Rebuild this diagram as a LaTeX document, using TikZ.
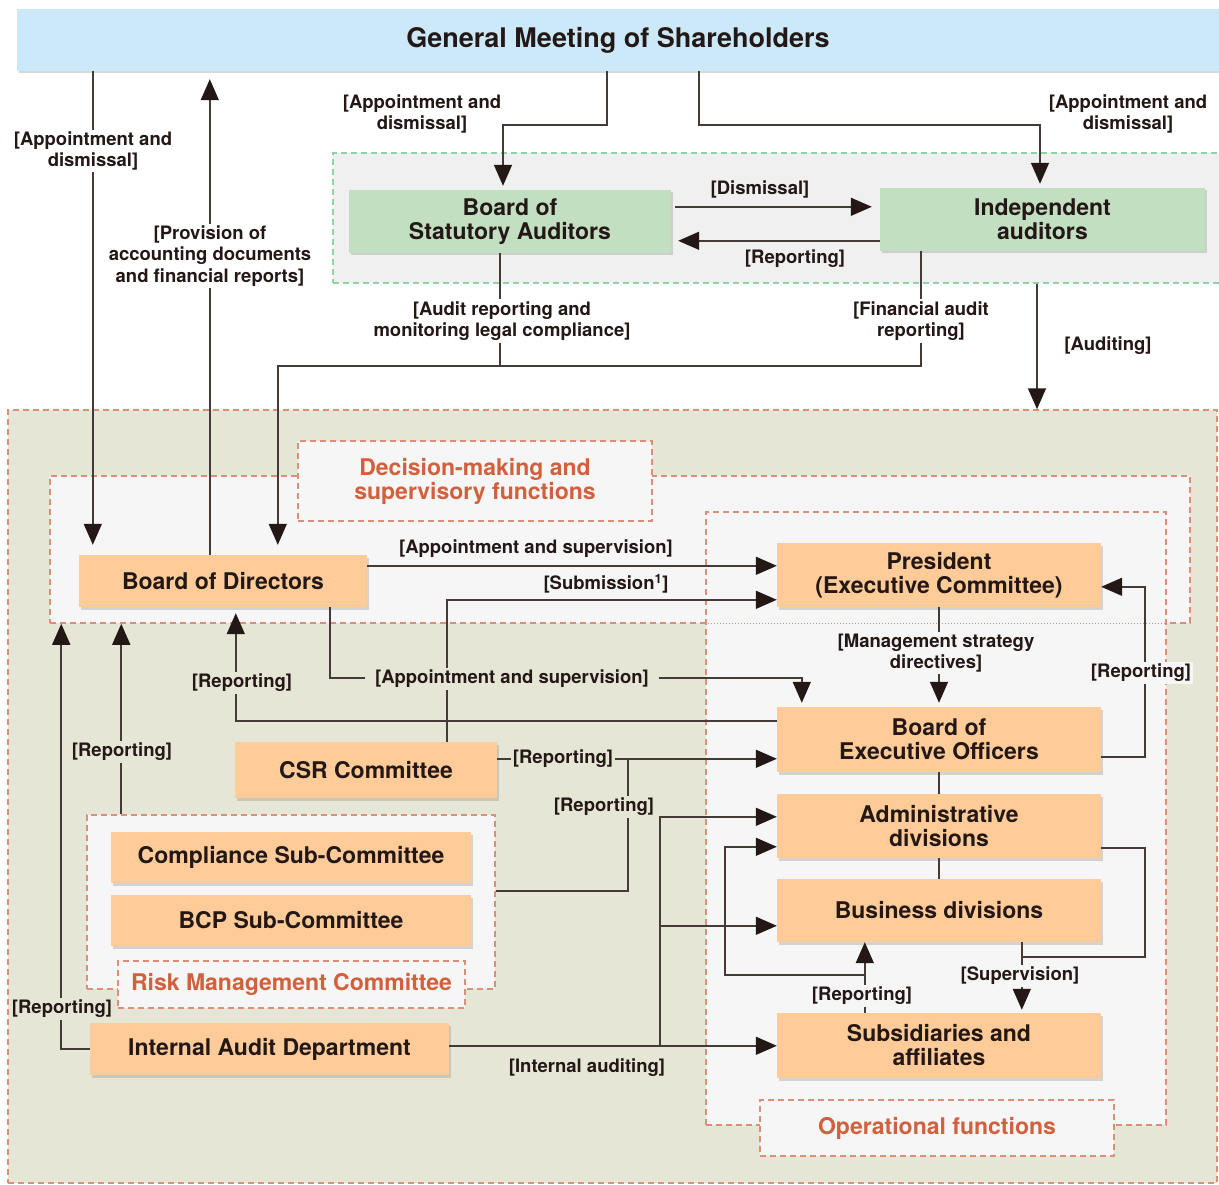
\documentclass[tikz,border=0pt]{standalone}
\usepackage{fontspec}
\setmainfont{TeX Gyre Heros}
\usetikzlibrary{arrows.meta,shadows}

\definecolor{gmblue}{HTML}{CCE9FA}
\definecolor{audgreen}{HTML}{C2DFC2}
\definecolor{boxorange}{HTML}{FFCC99}
\definecolor{mgmtbg}{HTML}{E6E6D6}
\definecolor{zonebg}{HTML}{F6F6F6}
\definecolor{audzonebg}{HTML}{F0F0F0}
\definecolor{zonered}{HTML}{DB8E78}
\definecolor{zonegreen}{HTML}{8FD3A3}
\definecolor{titlered}{HTML}{D2603C}
\definecolor{ink}{HTML}{231815}

\begin{document}
\begin{tikzpicture}[
    x=1pt,y=-1pt,
    >={Triangle[length=21pt,width=18pt,color=ink]},
    conn/.style={line width=1.6pt,draw=ink!85},
    orgbox/.style={fill=boxorange,align=center,inner sep=0pt,text=ink,
      font=\fontsize{23}{24}\selectfont\bfseries,
      drop shadow={shadow xshift=2pt,shadow yshift=-2.5pt,opacity=0.3}},
    audbox/.style={orgbox,fill=audgreen},
    clabel/.style={align=center,inner sep=2pt,text=ink,
      font=\fontsize{18.5}{21.5}\selectfont\bfseries},
    zone/.style={draw=zonered,line width=1.5pt,dash pattern=on 6pt off 4pt,inner sep=0pt},
    zonelabel/.style={zone,fill=zonebg,align=center,text=titlered,
      font=\fontsize{23}{24}\selectfont\bfseries},
  ]
  \useasboundingbox (0,0) rectangle (1219,1185);
  \fill[white] (0,0) rectangle (1219,1185);

  \node[zone,fill=mgmtbg,minimum width=1209pt,minimum height=773pt] (mgmt) at (612.5,796.5) {};
  \node[zone,draw=zonegreen,fill=audzonebg,minimum width=897pt,minimum height=130pt] (audzone) at (781.5,218) {};
  \node[zone,fill=zonebg,minimum width=1140pt,minimum height=147pt] (decide) at (620,549.5) {};
  \node[zone,fill=zonebg,minimum width=460pt,minimum height=613pt] (operate) at (936,818.5) {};
  \draw[zonered,line width=1pt,dotted] (decide.south -| operate.west) -- (decide.south -| operate.east);
  \node[zone,fill=zonebg,minimum width=408pt,minimum height=174pt] (risk) at (291,902) {};
  \node[zonelabel,minimum width=354pt,minimum height=80pt] (decideL) at (475,481) {Decision-making and\\supervisory functions};
  \node[zonelabel,minimum width=354pt,minimum height=56pt] (operateL) at (937,1128) {Operational functions};
  \node[zonelabel,minimum width=347pt,minimum height=47pt] (riskL) at (291.5,984.5) {Risk Management Committee};

  \node[orgbox,fill=gmblue,minimum width=1202pt,minimum height=62pt,font=\fontsize{27}{30}\selectfont\bfseries] (gms) at (618,40) {General Meeting of Shareholders};
  \node[audbox,minimum width=322pt,minimum height=63pt] (bsa) at (510,221.5) {Board of\\Statutory Auditors};
  \node[audbox,minimum width=325pt,minimum height=63pt] (ia) at (1042.5,219.5) {Independent\\auditors};
  \node[orgbox,minimum width=288pt,minimum height=52pt] (bod) at (223,581) {Board of Directors};
  \node[orgbox,minimum width=324pt,minimum height=64pt] (pres) at (939,575) {President\\(Executive Committee)};
  \node[orgbox,minimum width=324pt,minimum height=65pt] (beo) at (939,739.5) {Board of\\Executive Officers};
  \node[orgbox,minimum width=324pt,minimum height=64pt] (adm) at (939,826) {Administrative\\divisions};
  \node[orgbox,minimum width=324pt,minimum height=63pt] (bus) at (939,910.5) {Business divisions};
  \node[orgbox,minimum width=324pt,minimum height=65pt] (sub) at (939,1045.5) {Subsidiaries and\\affiliates};
  \node[orgbox,minimum width=262pt,minimum height=56pt] (csr) at (366,770) {CSR Committee};
  \node[orgbox,minimum width=360pt,minimum height=51pt] (comp) at (291,857.5) {Compliance Sub-Committee};
  \node[orgbox,minimum width=360pt,minimum height=51pt] (bcp) at (291,920.5) {BCP Sub-Committee};
  \node[orgbox,minimum width=359pt,minimum height=52pt] (iad) at (269.5,1049) {Internal Audit Department};

  \coordinate (bodA) at ([xshift=14pt]bod.north west);
  \coordinate (bodB) at ([xshift=131pt]bod.north west);
  \coordinate (bodC) at ([xshift=199pt]bod.north west);
  \coordinate (gmA) at (607,0);
  \coordinate (gmB) at (699,0);
  \coordinate (toprow) at (0,125);
  \coordinate (audrow) at (0,366);
  \coordinate (approw) at (0,678);
  \coordinate (bsaIn) at ([xshift=-7pt]bsa.north);
  \coordinate (iaIn) at ([xshift=-2.5pt]ia.north);
  \coordinate (bsaOut) at ([xshift=-10pt]bsa.south);
  \coordinate (iaOut) at ([xshift=-121.5pt]ia.south);
  \coordinate (disA) at ([yshift=-17pt]bsa.north east);
  \coordinate (repA) at ([yshift=-53pt]ia.north west);
  \coordinate (audX) at (1037,0);
  \coordinate (appA) at ([yshift=-11pt]bod.north east);
  \coordinate (subm) at ([yshift=-57pt]pres.north west);
  \coordinate (beoIn) at ([xshift=25pt]beo.north west);
  \coordinate (rcol) at (1145,0);
  \coordinate (presR) at ([yshift=-44pt]pres.north east);
  \coordinate (csrR) at ([yshift=-17pt]csr.north east);
  \coordinate (csrJ) at ([xshift=131pt,yshift=-17pt]csr.north east);
  \coordinate (riskUp) at ([xshift=35pt]risk.north west);
  \coordinate (iadR) at ([yshift=-23pt]iad.north east);
  \coordinate (iadJ) at ([xshift=211pt,yshift=-23pt]iad.north east);
  \coordinate (busIn) at ([yshift=-47pt]bus.north west);
  \coordinate (admIn) at ([yshift=-53pt]adm.north west);
  \coordinate (subUp) at ([xshift=88pt]sub.north west);
  \coordinate (loopX) at (725,0);
  \coordinate (busS) at ([xshift=245pt]bus.south west);
  \coordinate (supJ) at ([yshift=-15pt]busS);

  \draw[conn,->,shorten >=10pt] (gms.south -| bodA) -- (bodA);
  \draw[conn,->,shorten >=8pt] (bodB) -- (gms.south -| bodB);
  \draw[conn,->,shorten >=4pt] (gms.south -| gmA) |- (bsaIn |- toprow) -- (bsaIn);
  \draw[conn,->,shorten >=4pt] (gms.south -| gmB) |- (iaIn |- toprow) -- (iaIn);
  \draw[conn,->,shorten <=4pt,shorten >=8pt] (disA) -- (disA -| ia.west);
  \draw[conn,->,shorten >=7pt] (repA) -- (repA -| bsa.east);
  \draw[conn,->,shorten >=10pt] (bsaOut) |- (audrow -| bodC) -- (bodC);
  \draw[conn] (iaOut) |- (audrow -| bsaOut);
  \draw[conn,->] (audzone.south -| audX) -- (mgmt.north -| audX);
  \draw[conn,->] (appA) -- (appA -| pres.west);
  \draw[conn,->] ([xshift=212pt]csr.north west) |- (subm);
  \draw[conn,->,shorten >=4pt] ([xshift=251pt]bod.south west) |- (beoIn |- approw) -- (beoIn);
  \draw[conn,->,shorten >=4pt] (pres.south) -- (beo.north);
  \draw[conn,->,shorten >=6pt] ([yshift=-14pt]beo.north west) -| ([xshift=157pt]bod.south west);
  \draw[conn,->] ([yshift=-50pt]beo.north east) -| (rcol |- presR) -- (presR);
  \draw[conn,->] (csrR) -- (csrR -| beo.west);
  \draw[conn] ([yshift=-77pt]risk.north east) -| (csrJ);
  \draw[conn,->] (riskUp) -- (riskUp |- decide.south);
  \draw[conn,->] (iad.west) -| ([xshift=12pt]decide.south west);
  \draw[conn,->] (iadR) -- (iadR -| sub.west);
  \draw[conn,->] (iadJ) |- ([yshift=-23pt]adm.north west);
  \draw[conn,->] (iadJ |- busIn) -- (busIn);
  \draw[conn,->] (subUp) -- (subUp |- bus.south);
  \draw[conn,->] ([yshift=38pt]subUp) -| (loopX |- admIn) -- (admIn);
  \draw[conn] ([yshift=-54pt]adm.north east) -| (rcol |- supJ) -- (supJ);
  \draw[conn,->,shorten >=3pt] (busS) -- (busS |- sub.north);
  \draw[conn] (beo.south) -- (adm.north);
  \draw[conn] (adm.south) -- (bus.north);

  \node[clabel,fill=white] (lGmBod) at (93,151) {[Appointment and\\dismissal]};
  \node[clabel,fill=white] (lProv) at (210,256) {[Provision of\\accounting documents\\and financial reports]};
  \node[clabel] (lBsa) at (422,114) {[Appointment and\\dismissal]};
  \node[clabel] (lIa) at (1128,114) {[Appointment and\\dismissal]};
  \node[clabel] (lDis) at (760,189) {[Dismissal]};
  \node[clabel] (lRep) at (795,259) {[Reporting]};
  \node[clabel,fill=white] (lAud) at (502,321) {[Audit reporting and\\monitoring legal compliance]};
  \node[clabel,fill=white] (lFin) at (921,321) {[Financial audit\\reporting]};
  \node[clabel] (lAuditing) at (1108,346) {[Auditing]};
  \node[clabel] (lAppSup) at (536,549) {[Appointment and supervision]};
  \node[clabel] (lSubm) at (606,584) {[Submission\textsuperscript{1}]};
  \node[clabel,fill=mgmtbg,inner xsep=10pt] (lAppSup2) at (512,679) {[Appointment and supervision]};
  \node[clabel,fill=mgmtbg] (lRepBod) at (242,683) {[Reporting]};
  \node[clabel,fill=zonebg] (lMgmt) at (936,653) {[Management strategy\\directives]};
  \node[clabel,fill=zonebg] (lRepPres) at (1141,673) {[Reporting]};
  \node[clabel,fill=mgmtbg] (lRepCsr) at (563,759) {[Reporting]};
  \node[clabel,fill=mgmtbg] (lRepRisk) at (604,807) {[Reporting]};
  \node[clabel,fill=mgmtbg] (lRepRisk2) at (122,752) {[Reporting]};
  \node[clabel,fill=mgmtbg] (lRepIad) at (62,1009) {[Reporting]};
  \node[clabel] (lIntAud) at (587,1068) {[Internal auditing]};
  \node[clabel,fill=zonebg] (lRepSub) at (862,996) {[Reporting]};
  \node[clabel,fill=zonebg] (lSup) at (1020,976) {[Supervision]};
\end{tikzpicture}
\end{document}
